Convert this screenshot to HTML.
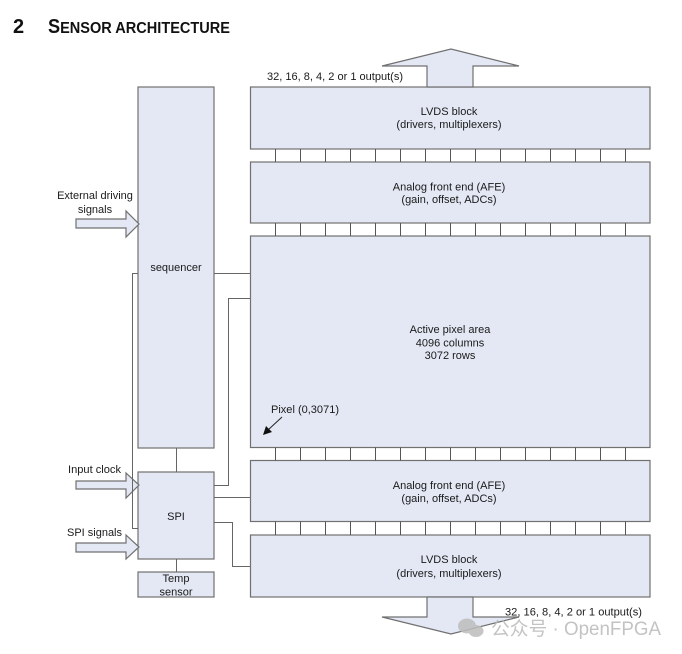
<!DOCTYPE html>
<html><head><meta charset="utf-8"><style>
html,body{margin:0;padding:0;background:#fff;}
svg{display:block;}
</style></head><body>
<svg width="682" height="654" viewBox="0 0 682 654" xmlns="http://www.w3.org/2000/svg">
<rect width="682" height="654" fill="#fff"/>
<!-- title -->
<text x="13" y="33" font-family="Liberation Sans, sans-serif" font-weight="bold" font-size="20" fill="#111">2</text>
<text x="48" y="33" font-family="Liberation Sans, sans-serif" font-weight="bold" font-size="20" fill="#111" textLength="182" lengthAdjust="spacingAndGlyphs">S<tspan font-size="16">ENSOR ARCHITECTURE</tspan></text>

<g fill="#e3e8f4" stroke="#707070" stroke-width="1.2">
  <!-- boxes -->
  <rect x="138" y="87" width="76" height="361"/>
  <rect x="250.5" y="87" width="399.5" height="62"/>
  <rect x="250.5" y="162" width="399.5" height="61"/>
  <rect x="250.5" y="236" width="399.5" height="211.5"/>
  <rect x="250.5" y="460.5" width="399.5" height="61"/>
  <rect x="250.5" y="535" width="399.5" height="62"/>
  <rect x="138" y="472" width="76" height="87"/>
  <rect x="138" y="572" width="76" height="25"/>
  <!-- big arrows -->
  <polygon points="427,87 427,66 382,66 451,49 519,66 473,66 473,87"/>
  <polygon points="427,597 427,617 382,617 451,634 519,617 473,617 473,597"/>
  <!-- input arrows -->
  <polygon points="76,219 126,219 126,211 139,224 126,237 126,228 76,228"/>
  <polygon points="76,481 126,481 126,473 139,485 126,498 126,489 76,489"/>
  <polygon points="76,543 126,543 126,535 139,547 126,559 126,552 76,552"/>
</g>

<!-- ladders -->
<g stroke="#555" stroke-width="1">
  <path d="M275.5 149V162M300.5 149V162M325.5 149V162M350.5 149V162M375.5 149V162M400.5 149V162M425.5 149V162M450.5 149V162M475.5 149V162M500.5 149V162M525.5 149V162M550.5 149V162M575.5 149V162M600.5 149V162M625.5 149V162"/>
  <path d="M275.5 223V236M300.5 223V236M325.5 223V236M350.5 223V236M375.5 223V236M400.5 223V236M425.5 223V236M450.5 223V236M475.5 223V236M500.5 223V236M525.5 223V236M550.5 223V236M575.5 223V236M600.5 223V236M625.5 223V236"/>
  <path d="M275.5 447.5V460.5M300.5 447.5V460.5M325.5 447.5V460.5M350.5 447.5V460.5M375.5 447.5V460.5M400.5 447.5V460.5M425.5 447.5V460.5M450.5 447.5V460.5M475.5 447.5V460.5M500.5 447.5V460.5M525.5 447.5V460.5M550.5 447.5V460.5M575.5 447.5V460.5M600.5 447.5V460.5M625.5 447.5V460.5"/>
  <path d="M275.5 521.5V535M300.5 521.5V535M325.5 521.5V535M350.5 521.5V535M375.5 521.5V535M400.5 521.5V535M425.5 521.5V535M450.5 521.5V535M475.5 521.5V535M500.5 521.5V535M525.5 521.5V535M550.5 521.5V535M575.5 521.5V535M600.5 521.5V535M625.5 521.5V535"/>
</g>

<!-- connectors -->
<g fill="none" stroke="#666" stroke-width="1">
  <path d="M214 273.5H250"/>
  <path d="M138 273.5H132.5V528.5H138"/>
  <path d="M214 485.5H228.5V298.5H250"/>
  <path d="M176.5 448V472"/>
  <path d="M214 497.5H250"/>
  <path d="M214 522.5H232.5V566.5H250"/>
  <path d="M176.5 559V572"/>
  <path d="M282 417L268 430" stroke="#222"/>
</g>
<polygon points="263,435 266,426 272,432" fill="#111"/>

<g font-family="Liberation Sans, Arial, sans-serif" font-size="11" fill="#1a1a1a">
  <text x="267" y="80" textLength="136" lengthAdjust="spacingAndGlyphs">32, 16, 8, 4, 2 or 1 output(s)</text>
  <g text-anchor="middle">
    <text x="449" y="115">LVDS block</text>
    <text x="449" y="128">(drivers, multiplexers)</text>
    <text x="449" y="190.5">Analog front end (AFE)</text>
    <text x="449" y="203">(gain, offset, ADCs)</text>
    <text x="450" y="333">Active pixel area</text>
    <text x="450" y="346.5">4096 columns</text>
    <text x="450" y="359">3072 rows</text>
    <text x="449" y="489">Analog front end (AFE)</text>
    <text x="449" y="502">(gain, offset, ADCs)</text>
    <text x="449" y="563">LVDS block</text>
    <text x="449" y="577">(drivers, multiplexers)</text>
    <text x="176" y="271">sequencer</text>
    <text x="176" y="520">SPI</text>
    <text x="176" y="582">Temp</text>
    <text x="176" y="595.5">sensor</text>
    <text x="95" y="199">External driving</text>
    <text x="95" y="213">signals</text>
  </g>
  <text x="68" y="473" textLength="53" lengthAdjust="spacingAndGlyphs">Input clock</text>
  <text x="67" y="536" textLength="55" lengthAdjust="spacingAndGlyphs">SPI signals</text>
  <text x="271" y="413" textLength="68" lengthAdjust="spacingAndGlyphs">Pixel (0,3071)</text>
  <text x="505" y="615.5" textLength="137" lengthAdjust="spacingAndGlyphs">32, 16, 8, 4, 2 or 1 output(s)</text>
</g>

<!-- watermark -->
<g fill="#bdbdbd" opacity="0.85">
  <ellipse cx="467" cy="626" rx="9" ry="7.5"/>
  <ellipse cx="476" cy="631" rx="7.5" ry="6"/>
</g>
<text x="491" y="635" font-family="Liberation Sans, 'Noto Sans CJK SC', sans-serif" font-size="19" fill="#bdbdbd" opacity="0.9" textLength="170" lengthAdjust="spacingAndGlyphs">公众号 · OpenFPGA</text>
</svg>
</body></html>
